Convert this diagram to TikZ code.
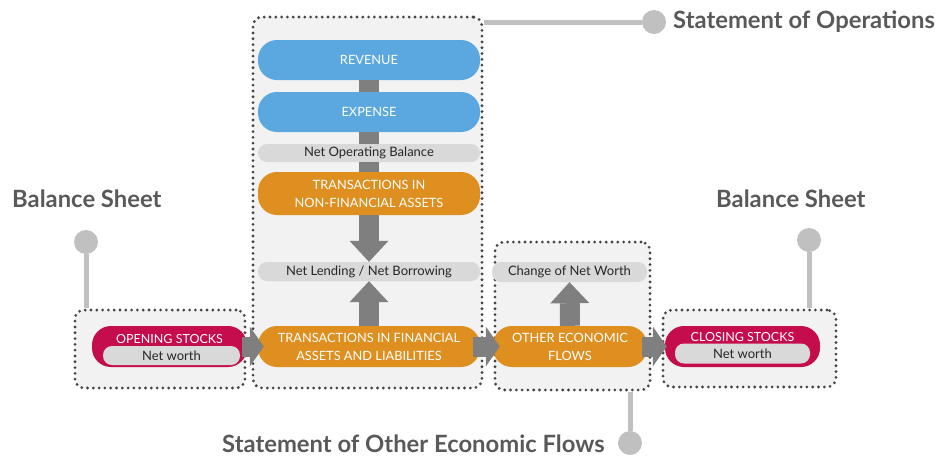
\documentclass[tikz,border=0pt]{standalone}
\usepackage{fontspec}
\setmainfont{Lato}
\usetikzlibrary{arrows.meta, positioning}

\definecolor{revblue}{HTML}{5BA8E0}
\definecolor{trorange}{HTML}{DE8F1F}
\definecolor{stockred}{HTML}{C50C4C}
\definecolor{pillgray}{HTML}{D9D9D9}
\definecolor{boxgray}{HTML}{F2F2F2}
\definecolor{dotgray}{HTML}{454545}
\definecolor{arrowgray}{HTML}{7F7F7F}
\definecolor{pingray}{HTML}{C0C0C0}
\definecolor{headgray}{HTML}{595959}

\begin{document}
\begin{tikzpicture}[x=1pt, y=-1pt,
      group/.style={rectangle, rounded corners=9pt, draw=dotgray, fill=boxgray,
                    line width=3.1pt, dash pattern=on 0pt off 5.8pt, line cap=round,
                    inner sep=0pt},
      bigpill/.style={rectangle, rounded corners=19pt, inner sep=0pt, align=center,
                    text=white, font=\fontsize{12.8}{18}\selectfont},
      flowpill/.style={bigpill, fill=revblue, minimum width=222pt, minimum height=40pt},
      trpill/.style={bigpill, fill=trorange},
      stockpill/.style={bigpill, fill=stockred, minimum width=155pt, minimum height=41pt},
      balpill/.style={rectangle, rounded corners=9pt, inner sep=0pt, fill=pillgray,
                    text=black!85, font=\fontsize{13}{14}\selectfont},
      stocklabel/.style={text=white, inner sep=0pt, font=\fontsize{12.5}{14}\selectfont},
      heading/.style={text=headgray, inner sep=0pt, font=\fontsize{23.8}{28}\selectfont\bfseries},
      pinhead/.style={circle, fill=pingray, minimum size=24pt, inner sep=0pt},
      pinline/.style={draw=pingray, line width=5pt},
      bar/.style={draw=arrowgray, line width=20pt},
      vfat/.style={draw=arrowgray, line width=20pt,
                    -{Triangle[length=21pt, width=39pt, line width=0pt]}},
      hfat/.style={draw=arrowgray, line width=20pt,
                    -{Triangle[length=14pt, width=40pt, line width=0pt]}}
    ]
        \useasboundingbox (0,0) rectangle (938,456);

        \node[group, minimum width=229pt, minimum height=371pt] (opbox) at (367.5,202.5) {};
        \node[group, minimum width=170pt, minimum height=78pt] (openbox) at (160,349) {};
        \node[group, minimum width=155pt, minimum height=148pt] (oefbox) at (572.5,316) {};
        \node[group, minimum width=173pt, minimum height=77pt] (closebox) at (749.5,348.5) {};

        \node[pinhead] (oppin) at (654,22) {};
        \node[pinhead] (lpin) at (86,242) {};
        \node[pinhead] (rpin) at (809,240) {};
        \node[pinhead] (oefpin) at (630,443) {};
        \draw[pinline] (opbox.north east |- oppin) -- (oppin);
        \draw[pinline] (lpin) -- (lpin |- openbox.north);
        \draw[pinline] (rpin) -- (rpin |- closebox.north);
        \draw[pinline] (oefbox.south -| oefpin) -- (oefpin);

        \node[heading, anchor=base west] (oplbl) at (673,28) {Statement of Operations};
        \node[heading, anchor=base west] (lbal) at (12,207) {Balance Sheet};
        \node[heading, anchor=base west] (rbal) at (716,207) {Balance Sheet};
        \node[heading, anchor=base west] (oeflbl) at (222,452) {Statement of Other Economic Flows};

        \node[flowpill] (rev) at (369,60) {REVENUE};
        \node[flowpill] (exp) at (369,112) {EXPENSE};
        \node[balpill, minimum width=222pt, minimum height=18pt] (nob) at (369,153) {Net Operating Balance};
        \node[trpill, minimum width=222pt, minimum height=43pt] (tnfa) at (369,193.5) {TRANSACTIONS IN\\NON-FINANCIAL ASSETS};
        \node[balpill, minimum width=222pt, minimum height=19pt] (nlnb) at (369,271.5) {Net Lending / Net Borrowing};
        \node[trpill, minimum width=222pt, minimum height=41pt] (tfal) at (369,346.5) {TRANSACTIONS IN FINANCIAL\\ASSETS AND LIABILITIES};

        \node[stockpill] (open) at (169.5,346.5) {};
        \node[stocklabel] (openlbl) at (169.5,339.5) {OPENING STOCKS};
        \node[balpill, minimum width=137pt, minimum height=19pt] (opennw) at (171.5,355.5) {Net worth};

        \node[balpill, minimum width=155pt, minimum height=20pt] (cnw) at (569.5,272) {Change of Net Worth};
        \node[trpill, minimum width=154pt, minimum height=41pt] (oef) at (570,346.5) {OTHER ECONOMIC\\FLOWS};

        \node[stockpill] (close) at (742.5,346.5) {};
        \node[stocklabel] (closelbl) at (742.5,337.5) {CLOSING STOCKS};
        \node[balpill, minimum width=135pt, minimum height=20pt] (closenw) at (742.5,353.5) {Net worth};

        \draw[bar] (rev) -- (exp);
        \draw[bar] (exp) -- (nob);
        \draw[bar] (nob) -- (tnfa);
        \draw[vfat] (tnfa.south) -- (nlnb.north);
        \draw[vfat] (tfal.north) -- (nlnb.south);
        \draw[vfat] (oef.north) -- (cnw.south);
        \draw[hfat] ([xshift=-5pt]open.east) -- ([xshift=6pt]tfal.west);
        \draw[hfat] ([xshift=-7pt]tfal.east) -- ([xshift=7pt]oef.west);
        \draw[hfat] ([xshift=-5pt]oef.east) -- ([xshift=2pt]close.west);
    \end{tikzpicture}
\end{document}
